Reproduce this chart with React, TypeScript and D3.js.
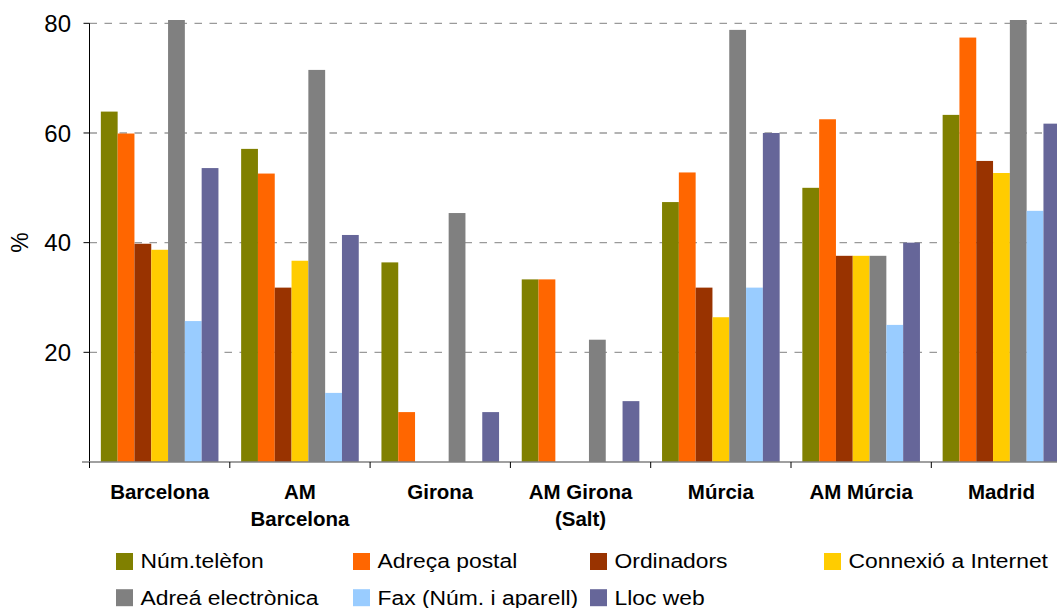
import React from 'react';
import * as d3 from 'd3';

const categories = ['Barcelona', 'AM Barcelona', 'Girona', 'AM Girona (Salt)', 'Múrcia', 'AM Múrcia', 'Madrid'];
const categoryLines = [['Barcelona'], ['AM', 'Barcelona'], ['Girona'], ['AM Girona', '(Salt)'], ['Múrcia'], ['AM Múrcia'], ['Madrid']];

const seriesNames = ['Núm.telèfon', 'Adreça postal', 'Ordinadors', 'Connexió a Internet', 'Adreá electrònica', 'Fax (Núm. i aparell)', 'Lloc web'];
const seriesColors = ['#808000', '#ff6600', '#993300', '#ffcc00', '#808080', '#99ccff', '#666699'];

const telefon = [63.9, 57.1, 36.4, 33.3, 47.4, 50.0, 63.3];
const postal = [59.9, 52.6, 9.1, 33.3, 52.8, 62.5, 77.4];
const ordinadors = [39.8, 31.8, 0, 0, 31.8, 37.6, 54.9];
const internet = [38.7, 36.7, 0, 0, 26.4, 37.6, 52.7];
const electronica = [80.6, 71.5, 45.4, 22.3, 78.8, 37.6, 80.6];
const fax = [25.7, 12.6, 0, 0, 31.8, 25.0, 45.8];
const web = [53.6, 41.4, 9.1, 11.1, 60.0, 40.0, 61.7];

const seriesValues = [telefon, postal, ordinadors, internet, electronica, fax, web];
const yTicks = [20, 40, 60, 80];

const W = 1057;
const H = 608;
const left = 89.5;
const top = 23.3;
const bottom = 462;
const groupStep = 140.3;

export default function App() {
    const x0 = d3
        .scaleBand<string>()
        .domain(categories)
        .range([left, left + groupStep * categories.length])
        .padding(0);
    const x1 = d3
        .scaleBand<number>()
        .domain(d3.range(seriesNames.length))
        .range([0, x0.bandwidth()])
        .paddingInner(0)
        .paddingOuter(0.675);
    const y = d3.scaleLinear().domain([0, 80]).range([bottom, top]);

    const font = "'Liberation Sans', Arial, sans-serif";

    // legend layout: two rows (baselines)
    const legendCols = [116, 353, 590, 824];
    const legendRows = [568.3, 604.5];

    return (
        <div style={{ position: 'fixed', left: 0, top: 0 }}>
            <svg width={W} height={H} style={{ display: 'block', background: '#fff' }} fontFamily={font}>
                <defs>
                    <clipPath id="plot">
                        <rect x={left} y={top - 4} width={W - left} height={bottom - top + 4} />
                    </clipPath>
                </defs>

                {/* gridlines */}
                {yTicks.map((t) => (
                    <line
                        key={t}
                        x1={left}
                        x2={W}
                        y1={y(t)}
                        y2={y(t)}
                        stroke="#9a9a9a"
                        strokeWidth={1.3}
                        strokeDasharray="7.5 7.5"
                    />
                ))}

                {/* bars */}
                <g clipPath="url(#plot)">
                    {categories.map((c, ci) => (
                        <g key={c} transform={`translate(${x0(c)},0)`}>
                            {seriesValues.map((vals, si) =>
                                vals[ci] > 0 ? (
                                    <rect
                                        key={si}
                                        x={x1(si)}
                                        y={y(vals[ci])}
                                        width={x1.bandwidth()}
                                        height={bottom - y(vals[ci])}
                                        fill={seriesColors[si]}
                                    />
                                ) : null
                            )}
                        </g>
                    ))}
                </g>

                {/* y axis */}
                <line x1={left} x2={left} y1={top} y2={bottom} stroke="#000" strokeWidth={1} />
                {yTicks.map((t) => (
                    <g key={t}>
                        <line x1={left - 6} x2={left} y1={y(t)} y2={y(t)} stroke="#000" />
                        <text x={71} y={y(t) + 8.6} textAnchor="end" fontSize={24} fill="#000">
                            {t}
                        </text>
                    </g>
                ))}
                <text
                    transform={`translate(28,${(top + bottom) / 2}) rotate(-90)`}
                    textAnchor="middle"
                    fontSize={23}
                    fill="#000"
                >
                    %
                </text>

                {/* x axis */}
                <line x1={82} x2={W} y1={bottom} y2={bottom} stroke="#808080" strokeWidth={1.5} />
                {categories.map((c) => (
                    <line key={c} x1={x0(c)} x2={x0(c)} y1={bottom} y2={bottom + 6} stroke="#000" />
                ))}
                {categories.map((c, i) => {
                    const cx = (x0(c) as number) + x0.bandwidth() / 2;
                    return categoryLines[i].map((ln, li) => (
                        <text
                            key={c + li}
                            transform={`translate(${cx},${499 + li * 27}) scale(1.05,1)`}
                            textAnchor="middle"
                            fontSize={19.5}
                            fontWeight="bold"
                            fill="#000"
                        >
                            {ln}
                        </text>
                    ));
                })}

                {/* legend */}
                {seriesNames.map((name, i) => {
                    const lx = legendCols[i % 4];
                    const ly = legendRows[Math.floor(i / 4)];
                    return (
                        <g key={name}>
                            <rect x={lx} y={ly - 15.3} width={17} height={17} fill={seriesColors[i]} />
                            <text
                                transform={`translate(${lx + 24.5},${ly}) scale(1.11,1)`}
                                fontSize={20.6}
                                fill="#000"
                            >
                                {name}
                            </text>
                        </g>
                    );
                })}
            </svg>
        </div>
    );
}
